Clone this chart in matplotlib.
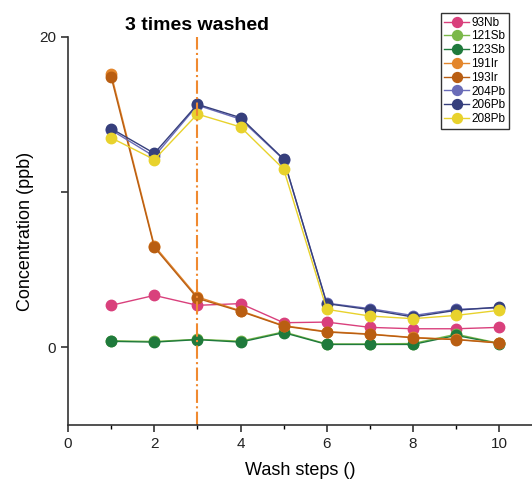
import numpy as np
import matplotlib.pyplot as plt

plt.rcParams['font.family'] = ['Liberation Sans', 'DejaVu Sans']

steps = [1, 2, 3, 4, 5, 6, 7, 8, 9, 10]

nb93 = [2.71, 3.35, 2.71, 2.82, 1.59, 1.63, 1.29, 1.2, 1.2, 1.29]
sb121 = [0.43, 0.38, 0.52, 0.40, 1.0, 0.22, 0.22, 0.25, 0.85, 0.26]
sb123 = [0.39, 0.34, 0.5, 0.34, 0.95, 0.19, 0.19, 0.19, 0.77, 0.24]
ir191 = [17.6, 6.55, 3.25, 2.36, 1.4, 1.02, 0.86, 0.64, 0.52, 0.3]
ir193 = [17.4, 6.45, 3.16, 2.32, 1.37, 0.99, 0.84, 0.62, 0.5, 0.28]
pb204 = [14.0, 12.3, 15.6, 14.7, 12.1, 2.85, 2.5, 2.05, 2.45, 2.55]
pb206 = [14.1, 12.5, 15.66, 14.8, 12.13, 2.82, 2.43, 1.96, 2.39, 2.6]
pb208 = [13.5, 12.1, 15.03, 14.2, 11.48, 2.45, 2.02, 1.85, 2.06, 2.39]

series = [
    ('93Nb', nb93, '#d9407c'),
    ('121Sb', sb121, '#7bb84a'),
    ('123Sb', sb123, '#1f7a3c'),
    ('191Ir', ir191, '#e3862c'),
    ('193Ir', ir193, '#b95e12'),
    ('204Pb', pb204, '#6a6cb8'),
    ('206Pb', pb206, '#363f7c'),
    ('208Pb', pb208, '#e8d22c'),
]

fig = plt.figure(figsize=(5.32, 4.86), dpi=100)
ax = fig.add_axes([0.128, 0.1255, 0.872, 0.7985])

for name, vals, col in series:
    ax.plot(steps, vals, marker='o', color=col, markersize=7.5, linewidth=1.0,
            label=name)

ax.axvline(3, color='#f08a30', linestyle='-.', linewidth=1.5)
ax.text(3, 20.75, '3 times washed', ha='center', va='center', fontsize=14,
        fontweight='bold', clip_on=False)

ax.set_xlim(0, 10.76)
ax.set_ylim(-5, 20)
ax.set_xticks([0, 2, 4, 6, 8, 10])
ax.set_xticks([1, 3, 5, 7, 9], minor=True)
ax.set_yticks([0, 10, 20])
ax.set_yticklabels(['0', '', '20'])

for s in ['top', 'right']:
    ax.spines[s].set_visible(False)
for s in ['left', 'bottom']:
    ax.spines[s].set_linewidth(1.2)
    ax.spines[s].set_color('#333333')
ax.tick_params(direction='out', length=5, width=1.1, labelsize=11, colors='#222222')
ax.tick_params(which='minor', direction='out', length=3, width=1.0)

ax.set_xlabel('Wash steps ()', fontsize=13, labelpad=8)
ax.set_ylabel('Concentration (ppb)', fontsize=13, labelpad=4)

leg = fig.legend(loc='upper right', bbox_to_anchor=(0.957, 0.973), fontsize=8.5,
                 frameon=True, fancybox=False, edgecolor='black',
                 handlelength=2.1, handletextpad=0.2, borderpad=0.3,
                 labelspacing=0.15, borderaxespad=0.0, markerscale=0.95)
leg.get_frame().set_linewidth(1.0)

fig.savefig('out.png', dpi=100)
